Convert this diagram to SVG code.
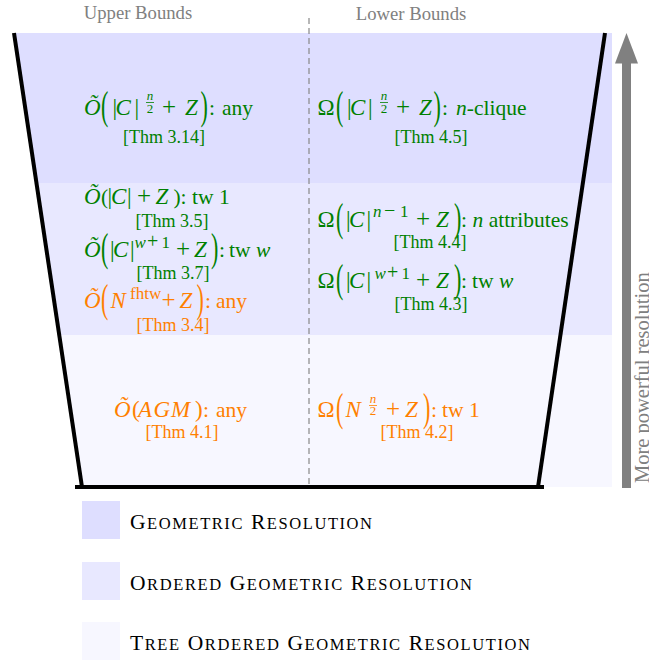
<svg xmlns="http://www.w3.org/2000/svg" width="649" height="660" viewBox="0 0 649 660">
<style>
text{font-family:"Liberation Serif","Times New Roman",serif}
.m{font-size:21.5px}
.v{font-size:23px}
.p{font-size:25px}
.i{font-style:italic}
.s{font-size:17px}
.sp{font-size:20px}
.fr{font-size:13px;text-anchor:middle}
.lb{font-size:18px;text-anchor:middle}
.bp{font-size:22px}
.g{fill:#008000}
.o{fill:#ff8000}
.gl{stroke:#008000;stroke-width:0.8}
.ol{stroke:#ff8000;stroke-width:0.8}
.hd{font-size:18.7px;fill:#808080;text-anchor:middle}
.lg{font-size:21.5px;fill:#000}
.sc{font-size:16.5px}
</style>
<g id="bands">
<polygon points="14,33 612,33 612,183 36.5,183" fill="#dedeff"/>
<polygon points="36.5,183 612,183 612,335 59.2,335" fill="#e8e8ff"/>
<polygon points="59.2,335 612,335 612,487 82,487" fill="#f7f7ff"/>
</g>
<g id="frame" stroke="#000" stroke-width="4" fill="none">
<line x1="14" y1="33" x2="82" y2="487"/>
<line x1="605" y1="33" x2="538" y2="487"/>
<line x1="75" y1="487" x2="544" y2="487"/>
</g>
<line id="divider" x1="309" y1="18" x2="309" y2="487" stroke="#888" stroke-width="1.2" stroke-dasharray="6,4"/>
<text class="hd" x="138" y="19">Upper Bounds</text>
<text class="hd" x="411" y="20">Lower Bounds</text>

<g id="ub-geometric">
<text class="m g" y="115"><tspan class="v i" x="84">Õ</tspan><tspan class="v" x="112.5">|</tspan><tspan class="v i" x="115.5">C</tspan><tspan class="v" x="134.5">|</tspan><tspan class="p" x="162">+</tspan><tspan class="v i" x="185">Z</tspan><tspan x="209">:</tspan><tspan x="222">any</tspan></text>
<text class="bp g" transform="translate(101,118.5) scale(1,1.8)">(</text>
<text class="bp g" transform="translate(200.5,118.5) scale(1,1.8)">)</text>
<text class="fr i g" x="150" y="100">n</text><line class="gl" x1="146" y1="102.5" x2="154" y2="102.5"/><text class="fr g" x="150" y="112.5">2</text>
<text class="lb g" x="164" y="143">[Thm 3.14]</text>
</g>

<g id="lb-geometric">
<text class="m g" y="115"><tspan class="v" x="317.5">Ω</tspan><tspan class="v" x="347">|</tspan><tspan class="v i" x="350">C</tspan><tspan class="v" x="368">|</tspan><tspan class="p" x="396">+</tspan><tspan class="v i" x="419">Z</tspan><tspan x="442">:</tspan><tspan class="i" x="456">n</tspan><tspan>-clique</tspan></text>
<text class="bp g" transform="translate(336,118.5) scale(1,1.8)">(</text>
<text class="bp g" transform="translate(433.5,118.5) scale(1,1.8)">)</text>
<text class="fr i g" x="384" y="100">n</text><line class="gl" x1="380" y1="102.5" x2="388" y2="102.5"/><text class="fr g" x="384" y="112.5">2</text>
<text class="lb g" x="431" y="143">[Thm 4.5]</text>
</g>

<g id="ub-tw1">
<text class="m g" y="204"><tspan class="v i" x="84">Õ</tspan><tspan x="101">(</tspan><tspan class="v" x="107.5">|</tspan><tspan class="v i" x="111">C</tspan><tspan class="v" x="127">|</tspan><tspan class="p" x="137">+</tspan><tspan class="v i" x="155.5">Z</tspan><tspan x="173.5">)</tspan><tspan x="180.5">:</tspan><tspan x="192">tw 1</tspan></text>
<text class="lb g" x="172" y="227">[Thm 3.5]</text>
</g>

<g id="ub-tww">
<text class="m g" y="257"><tspan class="v i" x="84">Õ</tspan><tspan class="v" x="110">|</tspan><tspan class="v i" x="113">C</tspan><tspan class="v" x="130">|</tspan><tspan class="s i" x="134.5" y="248">w</tspan><tspan class="sp" x="147" y="248">+</tspan><tspan class="s" x="161.5" y="248">1</tspan><tspan class="p" x="176" y="257">+</tspan><tspan class="v i" x="194">Z</tspan><tspan x="219">:</tspan><tspan x="229">tw </tspan><tspan class="i">w</tspan></text>
<text class="bp g" transform="translate(101,260.5) scale(1,1.8)">(</text>
<text class="bp g" transform="translate(211,260.5) scale(1,1.8)">)</text>
<text class="lb g" x="173" y="279">[Thm 3.7]</text>
</g>

<g id="ub-fhtw">
<text class="m o" y="308"><tspan class="v i" x="84">Õ</tspan><tspan class="v i" x="110.5">N</tspan><tspan class="s" x="130" y="299">fhtw</tspan><tspan class="p" x="161.5" y="308">+</tspan><tspan class="v i" x="179.5">Z</tspan><tspan x="205">:</tspan><tspan x="216">any</tspan></text>
<text class="bp o" transform="translate(101,311.5) scale(1,1.8)">(</text>
<text class="bp o" transform="translate(196.5,311.5) scale(1,1.8)">)</text>
<text class="lb o" x="173" y="331">[Thm 3.4]</text>
</g>

<g id="lb-nattr">
<text class="m g" y="227"><tspan class="v" x="317.5">Ω</tspan><tspan class="v" x="346">|</tspan><tspan class="v i" x="349">C</tspan><tspan class="v" x="366.5">|</tspan><tspan class="s i" x="373" y="217">n</tspan><tspan class="sp" x="384" y="217">−</tspan><tspan class="s" x="400" y="217">1</tspan><tspan class="p" x="416" y="227">+</tspan><tspan class="v i" x="436">Z</tspan><tspan x="461">:</tspan><tspan class="i" x="472.5">n</tspan><tspan> attributes</tspan></text>
<text class="bp g" transform="translate(336,230.5) scale(1,1.8)">(</text>
<text class="bp g" transform="translate(454,230.5) scale(1,1.8)">)</text>
<text class="lb g" x="430" y="248">[Thm 4.4]</text>
</g>

<g id="lb-tww">
<text class="m g" y="288"><tspan class="v" x="317.5">Ω</tspan><tspan class="v" x="346">|</tspan><tspan class="v i" x="349">C</tspan><tspan class="v" x="366.5">|</tspan><tspan class="s i" x="374.5" y="279">w</tspan><tspan class="sp" x="387" y="279">+</tspan><tspan class="s" x="401.5" y="279">1</tspan><tspan class="p" x="416" y="288">+</tspan><tspan class="v i" x="436">Z</tspan><tspan x="461">:</tspan><tspan x="472">tw </tspan><tspan class="i">w</tspan></text>
<text class="bp g" transform="translate(336,291.5) scale(1,1.8)">(</text>
<text class="bp g" transform="translate(454,291.5) scale(1,1.8)">)</text>
<text class="lb g" x="431" y="310">[Thm 4.3]</text>
</g>

<g id="ub-agm">
<text class="m o" y="417"><tspan class="v i" x="114">Õ</tspan><tspan class="v" x="132">(</tspan><tspan class="v i" x="138">A</tspan><tspan class="v i" x="153.5">G</tspan><tspan class="v i" x="171">M</tspan><tspan class="v" x="195">)</tspan><tspan x="203">:</tspan><tspan x="216">any</tspan></text>
<text class="lb o" x="182" y="438">[Thm 4.1]</text>
</g>

<g id="lb-tw1">
<text class="m o" y="417"><tspan class="v" x="317.5">Ω</tspan><tspan class="v i" x="345.5">N</tspan><tspan class="p" x="386">+</tspan><tspan class="v i" x="405">Z</tspan><tspan x="431">:</tspan><tspan x="442">tw 1</tspan></text>
<text class="bp o" transform="translate(336,420.5) scale(1,1.8)">(</text>
<text class="bp o" transform="translate(423,420.5) scale(1,1.8)">)</text>
<text class="fr i o" x="373" y="403">n</text><line class="ol" x1="369" y1="405.5" x2="377" y2="405.5"/><text class="fr o" x="373" y="415">2</text>
<text class="lb o" x="417" y="438">[Thm 4.2]</text>
</g>

<g id="axis">
<rect x="622" y="60" width="9" height="428" fill="#808080"/>
<polygon points="615,63.5 638,63.5 626.5,33" fill="#808080"/>
<text transform="translate(648.5,483) rotate(-90)" font-size="20.5" fill="#808080">More powerful resolution</text>
</g>

<g id="legend">
<rect x="82" y="501" width="38" height="38" fill="#dedeff"/>
<text class="lg" x="130" y="529" textLength="242">G<tspan class="sc">EOMETRIC</tspan> R<tspan class="sc">ESOLUTION</tspan></text>
<rect x="82" y="562" width="38" height="38" fill="#e8e8ff"/>
<text class="lg" x="130" y="590" textLength="342">O<tspan class="sc">RDERED</tspan> G<tspan class="sc">EOMETRIC</tspan> R<tspan class="sc">ESOLUTION</tspan></text>
<rect x="82" y="622" width="38" height="38" fill="#f7f7ff"/>
<text class="lg" x="130" y="650" textLength="400">T<tspan class="sc">REE</tspan> O<tspan class="sc">RDERED</tspan> G<tspan class="sc">EOMETRIC</tspan> R<tspan class="sc">ESOLUTION</tspan></text>
</g>
</svg>
